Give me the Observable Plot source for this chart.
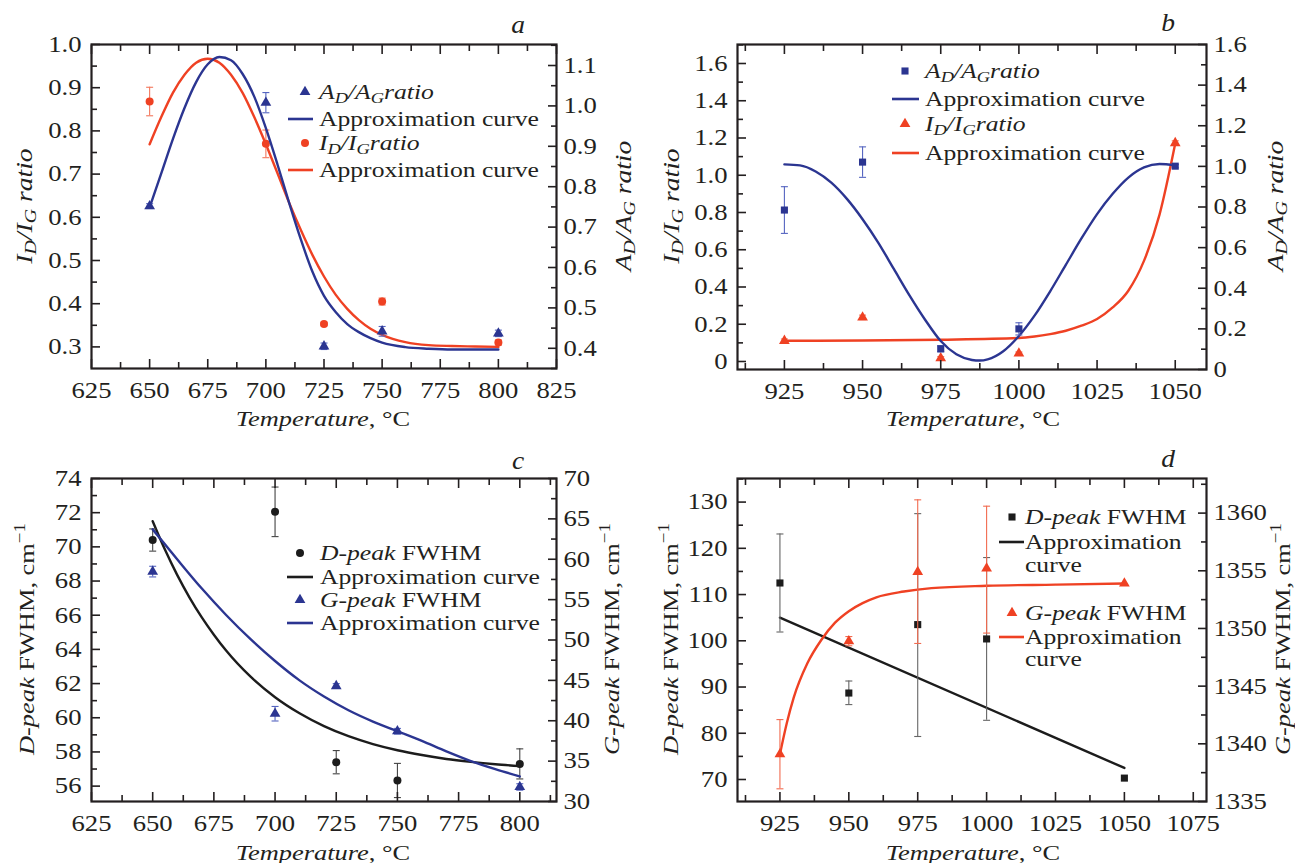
<!DOCTYPE html>
<html><head><meta charset="utf-8">
<script src="https://cdn.jsdelivr.net/npm/d3@7"></script>
<script src="https://cdn.jsdelivr.net/npm/@observablehq/plot@0.6"></script>
<style>
html,body{margin:0;padding:0;background:#fff;}
body{width:1295px;height:863px;overflow:hidden;position:relative;font-family:"Liberation Serif","Times New Roman",serif;color:#231f20;}
.abs{position:absolute;}
.t{position:absolute;white-space:nowrap;line-height:1;}
i{font-style:italic;}
sub{font-size:72%;vertical-align:-0.28em;line-height:0;}
sup{font-size:72%;vertical-align:0.55em;line-height:0;}
</style></head>
<body>
<script>
// ---------------- DATA ----------------
// Panel a
const tempA = [650, 700, 725, 750, 800];
const idigA = [0.868, 0.770, 0.353, 0.405, 0.310];
const idigErrA = [0.033, 0.032, 0.004, 0.008, 0.006];
const adagA = [0.752, 1.008, 0.405, 0.442, 0.437];
const adagErrA = [0.006, 0.025, 0.008, 0.012, 0.008];
const fitXA = [650,655,660,665,670,675,680,685,690,695,700,705,710,715,720,725,730,735,740,745,750,760,770,780,790,800];
const fitIdigA = [0.769,0.832,0.888,0.930,0.958,0.967,0.958,0.930,0.888,0.832,0.769,0.702,0.634,0.571,0.513,0.463,0.421,0.388,0.362,0.342,0.328,0.311,0.304,0.302,0.301,0.300];
const fitAdagA = [0.749,0.833,0.918,0.995,1.059,1.103,1.121,1.113,1.079,1.023,0.945,0.855,0.760,0.670,0.590,0.530,0.490,0.460,0.440,0.425,0.414,0.403,0.399,0.397,0.397,0.397];

// Panel b
const tempB = [925, 950, 975, 1000, 1050];
const adagB = [0.785, 1.021, 0.102, 0.200, 1.001];
const adagErrB = [0.115, 0.075, 0.015, 0.03, 0.008];
const idigB = [0.111, 0.237, 0.018, 0.043, 1.173];
const idigErrB = [0.01, 0.012, 0.008, 0.008, 0.012];
const fitXB1 = [925,930,935,940,945,950,955,960,965,970,975,980,985,987.5,990,995,1000,1005,1010,1015,1020,1025,1030,1035,1040,1045,1050];
const fitAdagB = [1.01,1.005,0.975,0.92,0.84,0.74,0.625,0.495,0.365,0.245,0.14,0.075,0.047,0.044,0.05,0.09,0.165,0.265,0.385,0.515,0.645,0.765,0.865,0.945,0.995,1.012,1.005];
const fitXB2 = [925,950,975,1000,1005,1010,1015,1020,1025,1030,1035,1040,1045,1050];
const fitIdigB = [0.111,0.113,0.117,0.126,0.134,0.147,0.165,0.192,0.228,0.29,0.38,0.54,0.79,1.17];

// Panel c
const tempC = [650, 700, 725, 750, 800];
const dC = [70.4, 72.05, 57.4, 56.33, 57.3];
const dErrC = [0.65, 1.45, 0.68, 1.0, 0.88];
const gC = [58.47, 40.87, 44.3, 38.7, 31.8];
const gErrC = [0.66, 0.9, 0.3, 0.35, 0.4];
const fitXC1 = [650,655,660,665,670,675,680,690,700,710,720,730,740,750,760,770,780,790,800];
const fitDC = [71.50,69.84,68.36,67.05,65.89,64.86,63.93,62.40,61.20,60.26,59.51,58.92,58.46,58.10,57.82,57.59,57.42,57.28,57.17];
const fitXC2 = [650,660,670,680,690,700,710,720,730,740,750,760,770,780,790,800];
const fitGC = [63.7,60.0,56.4,53.1,50.1,47.4,45.0,43.0,41.3,39.9,38.7,37.5,36.2,35.0,34.0,33.1];

// Panel d
const tempD = [925, 950, 975, 1000, 1050];
const dD = [112.5, 88.7, 103.5, 100.4, 70.3];
const dLoD = [101.9, 86.2, 79.3, 82.8, 70.3];
const dHiD = [123.1, 91.3, 127.5, 118.0, 70.3];
const gD = [1339.1, 1348.9, 1354.9, 1355.2, 1353.9];
const gLoD = [1336.1, 1348.5, 1348.7, 1349.6, 1353.9];
const gHiD = [1342.1, 1349.3, 1361.15, 1360.6, 1353.9];
const fitXD1 = [925, 1050];
const fitDD = [105.0, 72.5];
const fitXD2 = [925,927.5,930,935,940,945,950,955,960,970,980,1000,1025,1050];
const fitGD = [1339.1,1341.8,1344.0,1347.0,1349.0,1350.5,1351.5,1352.2,1352.7,1353.2,1353.5,1353.7,1353.8,1353.9];

// ---------------- STYLE ----------------
const BLUE = "#2b3591", RED = "#ef4123", BLACK = "#1c1c1c", INK = "#231f20";
const FONT = '"Liberation Serif","Times New Roman",serif';
const W = 647, H = 431;

const pts = (xs, ys, lo, hi) => xs.map((x, i) => ({x, y: ys[i], lo: lo ? lo[i] : ys[i], hi: hi ? hi[i] : ys[i]}));
const withErr = (xs, ys, err) => pts(xs, ys, ys.map((v, i) => v - err[i]), ys.map((v, i) => v + err[i]));
const capSym = {draw(ctx, size) { const r = Math.sqrt(size / Math.PI); ctx.moveTo(-r, 0); ctx.lineTo(r, 0); }};

function series(rows, {symbol, color, errColor, r = 4, fit}) {
  const e = rows.filter(d => d.hi > d.lo);
  const m = [];
  if (fit) m.push(Plot.line(fit, {x: "x", y: "y", stroke: color, strokeWidth: 2.4, curve: "monotone-x"}));
  m.push(Plot.ruleX(e, {x: "x", y1: "lo", y2: "hi", stroke: errColor, strokeWidth: 1.1}));
  m.push(Plot.dot(e, {x: "x", y: "lo", symbol: capSym, r: 3.5, stroke: errColor, fill: "none", strokeWidth: 1.1}));
  m.push(Plot.dot(e, {x: "x", y: "hi", symbol: capSym, r: 3.5, stroke: errColor, fill: "none", strokeWidth: 1.1}));
  m.push(Plot.dot(rows, {x: "x", y: "y", symbol, r, fill: color, stroke: "none"}));
  return m;
}

const range = (a, b, s) => { const out = []; for (let v = a; v <= b + 1e-9; v += s) out.push(+v.toFixed(4)); return out; };

function stretch(svg, s) {
  svg.querySelectorAll("text").forEach(t => {
    const tr = t.getAttribute("transform") || "";
    t.setAttribute("transform", tr + ` scale(${s},1)`);
  });
}

function panel(cfg) {
  const wrap = document.createElement("div");
  wrap.className = "abs";
  Object.assign(wrap.style, {left: cfg.left + "px", top: cfg.top + "px", width: W + "px", height: H + "px"});
  const base = {width: W, height: H, marginLeft: cfg.ml, marginRight: cfg.mr, marginTop: cfg.mt, marginBottom: cfg.mb,
    style: {fontFamily: FONT, fontSize: "23px", color: INK, background: "transparent", overflow: "visible"}};
  const none = () => "";
  const p1 = Plot.plot({...base,
    x: {domain: cfg.xDomain},
    y: {domain: cfg.yL.domain},
    marks: [
      ...cfg.marksL,
      Plot.axisX({ticks: cfg.xMajor, tickSize: 0, tickPadding: 13, tickFormat: d3.format("d"), label: null}),
      Plot.axisX({ticks: cfg.xMajor, tickSize: -9, tickFormat: none, label: null, strokeWidth: 1.6}),
      Plot.axisX({ticks: cfg.xMinor, tickSize: -6, tickFormat: none, label: null, strokeWidth: 1.6}),
      Plot.axisX({anchor: "top", ticks: cfg.xMajor, tickSize: -9, tickFormat: none, label: null, strokeWidth: 1.6}),
      Plot.axisX({anchor: "top", ticks: cfg.xMinor, tickSize: -6, tickFormat: none, label: null, strokeWidth: 1.6}),
      Plot.axisY({ticks: cfg.yL.major, tickSize: 0, tickPadding: 10, tickFormat: cfg.yL.fmt, label: null}),
      Plot.axisY({ticks: cfg.yL.major, tickSize: -9, tickFormat: none, label: null, strokeWidth: 1.6}),
      Plot.axisY({ticks: cfg.yL.minor, tickSize: -6, tickFormat: none, label: null, strokeWidth: 1.6}),
      Plot.frame({stroke: INK, strokeWidth: 2.2})
    ]});
  const p2 = Plot.plot({...base,
    x: {domain: cfg.xDomain, axis: null},
    y: {domain: cfg.yR.domain},
    marks: [
      ...cfg.marksR,
      Plot.axisY({anchor: "right", ticks: cfg.yR.major, tickSize: 0, tickPadding: 7, tickFormat: cfg.yR.fmt, label: null}),
      Plot.axisY({anchor: "right", ticks: cfg.yR.major, tickSize: -9, tickFormat: none, label: null, strokeWidth: 1.6}),
      Plot.axisY({anchor: "right", ticks: cfg.yR.minor, tickSize: -6, tickFormat: none, label: null, strokeWidth: 1.6})
    ]});
  for (const p of [p1, p2]) {
    stretch(p, 1.16);
    Object.assign(p.style, {position: "absolute", left: "0px", top: "0px"});
    wrap.appendChild(p);
  }
  document.body.appendChild(wrap);
}

const f1 = d3.format(".1f");
const f0 = v => v === 0 ? "0" : f1(v);
const fd = d3.format("d");

// Panel a
panel({left: 0, top: 0, ml: 91, mr: 91, mt: 44, mb: 63,
  xDomain: [625, 825], xMajor: range(625, 825, 25), xMinor: range(637.5, 812.5, 25),
  yL: {domain: [0.25, 1.0], major: range(0.3, 1.0, 0.1), minor: range(0.35, 0.95, 0.1), fmt: f1},
  yR: {domain: [0.35, 1.152], major: range(0.4, 1.1, 0.1), minor: range(0.35, 1.15, 0.1), fmt: f1},
  marksL: series(withErr(tempA, idigA, idigErrA), {symbol: "circle", color: RED, errColor: "#f3775c", fit: pts(fitXA, fitIdigA)}),
  marksR: series(withErr(tempA, adagA, adagErrA), {symbol: "triangle", color: BLUE, errColor: "#5565c0", fit: pts(fitXA, fitAdagA)})
});
// Panel b
panel({left: 648, top: 0, ml: 89, mr: 89, mt: 44, mb: 62,
  xDomain: [910, 1060], xMajor: range(925, 1050, 25), xMinor: range(912.5, 1037.5, 25),
  yL: {domain: [-0.043, 1.702], major: range(0, 1.6, 0.2), minor: range(0.1, 1.7, 0.2), fmt: f0},
  yR: {domain: [0, 1.6], major: range(0, 1.6, 0.2), minor: range(0.1, 1.5, 0.2), fmt: f0},
  marksL: series(withErr(tempB, idigB, idigErrB), {symbol: "triangle", color: RED, errColor: "#f3775c", fit: pts(fitXB2, fitIdigB)}),
  marksR: series(withErr(tempB, adagB, adagErrB), {symbol: "square", color: BLUE, errColor: "#5565c0", fit: pts(fitXB1, fitAdagB)})
});
// Panel c
panel({left: 0, top: 432, ml: 91, mr: 91, mt: 46, mb: 62,
  xDomain: [625, 815], xMajor: range(625, 800, 25), xMinor: range(637.5, 812.5, 25),
  yL: {domain: [55.1, 74], major: range(56, 74, 2), minor: range(57, 73, 2), fmt: fd},
  yR: {domain: [30, 70], major: range(30, 70, 5), minor: range(32.5, 67.5, 5), fmt: fd},
  marksL: series(withErr(tempC, dC, dErrC), {symbol: "circle", color: BLACK, errColor: "#444", fit: pts(fitXC1, fitDC)}),
  marksR: series(withErr(tempC, gC, gErrC), {symbol: "triangle", color: BLUE, errColor: "#5565c0", fit: pts(fitXC2, fitGC)})
});
// Panel d
panel({left: 648, top: 432, ml: 89, mr: 89, mt: 46, mb: 62,
  xDomain: [909.6, 1079.8], xMajor: range(925, 1075, 25), xMinor: range(912.5, 1062.5, 25),
  yL: {domain: [65.24, 135.1], major: range(70, 130, 10), minor: range(75, 135, 10), fmt: fd},
  yR: {domain: [1335, 1363], major: range(1335, 1360, 5), minor: range(1337.5, 1362.5, 5), fmt: fd},
  marksL: series(pts(tempD, dD, dLoD, dHiD), {symbol: "square", color: BLACK, errColor: "#666", fit: pts(fitXD1, fitDD)}),
  marksR: series(pts(tempD, gD, gLoD, gHiD), {symbol: "triangle", color: RED, errColor: "#f26b50", fit: pts(fitXD2, fitGD)})
});

// ---------------- TEXT ----------------
function txt(html, x, y, {size = 22, scale = 1.2, rot = false, left = false} = {}) {
  const d = document.createElement("div");
  d.className = "t";
  d.innerHTML = html;
  d.style.fontSize = size + "px";
  d.style.left = x + "px";
  d.style.top = y + "px";
  if (left) {
    d.style.transformOrigin = "0 50%";
    d.style.transform = `translateY(-50%) scaleX(${scale})`;
  } else {
    d.style.transform = `translate(-50%,-50%)${rot ? " rotate(-90deg)" : ""} scaleX(${scale})`;
  }
  document.body.appendChild(d);
}
const IDIG = "<i>I<sub>D</sub>/I<sub>G</sub> ratio</i>";
const ADAG = "<i>A<sub>D</sub>/A<sub>G</sub> ratio</i>";
const IDIGl = "<i>I<sub>D</sub>/I<sub>G</sub>ratio</i>";
const ADAGl = "<i>A<sub>D</sub>/A<sub>G</sub>ratio</i>";
const TEMP = "<i>Temperature</i>, °C";
const DP = "<i>D-peak</i> FWHM, cm<sup>−1</sup>";
const GP = "<i>G-peak</i> FWHM, cm<sup>−1</sup>";

txt(IDIG, 24, 206, {size: 23, rot: true});
txt(ADAG, 623, 206, {size: 23, rot: true});
txt(IDIG, 671, 206, {size: 23, rot: true});
txt(ADAG, 1275, 206, {size: 23, rot: true});
txt(DP, 27, 639, {size: 22, rot: true});
txt(GP, 612, 639, {size: 22, rot: true});
txt(DP, 671, 639, {size: 22, rot: true});
txt(GP, 1283, 639, {size: 22, rot: true});
txt(TEMP, 323, 419, {size: 22});
txt(TEMP, 973, 419, {size: 22});
txt(TEMP, 323, 853, {size: 22});
txt(TEMP, 973, 853, {size: 22});
txt("<i>a</i>", 518, 24, {size: 25, scale: 1.1});
txt("<i>b</i>", 1168, 22, {size: 25, scale: 1.1});
txt("<i>c</i>", 518, 460, {size: 25, scale: 1.1});
txt("<i>d</i>", 1168, 458, {size: 25, scale: 1.1});

// ---------------- LEGENDS ----------------
const lg = d3.select(document.body).append("svg")
  .attr("width", 1295).attr("height", 863)
  .style("position", "absolute").style("left", "0px").style("top", "0px").style("pointer-events", "none");
const symMap = {triangle: d3.symbolTriangle, circle: d3.symbolCircle, square: d3.symbolSquare};
function legend(items, sx, lx1, lx2, tx) {
  for (const it of items) {
    if (it.sym === "line") {
      lg.append("line").attr("x1", lx1).attr("x2", lx2).attr("y1", it.y).attr("y2", it.y)
        .attr("stroke", it.color).attr("stroke-width", 2.6);
    } else if (it.sym) {
      lg.append("path").attr("d", d3.symbol(symMap[it.sym], Math.PI * 16)())
        .attr("transform", `translate(${sx},${it.y})`).attr("fill", it.color);
    }
    txt(it.text, tx, it.y, {size: 21, scale: 1.22, left: true});
  }
}
legend([
  {sym: "triangle", color: BLUE, y: 92, text: ADAGl},
  {sym: "line", color: BLUE, y: 119, text: "Approximation curve"},
  {sym: "circle", color: RED, y: 143, text: IDIGl},
  {sym: "line", color: RED, y: 170, text: "Approximation curve"}
], 305, 288, 313, 319);
legend([
  {sym: "square", color: BLUE, y: 71, text: ADAGl},
  {sym: "line", color: BLUE, y: 99, text: "Approximation curve"},
  {sym: "triangle", color: RED, y: 124, text: IDIGl},
  {sym: "line", color: RED, y: 153, text: "Approximation curve"}
], 905, 892, 919, 925);
legend([
  {sym: "circle", color: BLACK, y: 553, text: "<i>D-peak</i> FWHM"},
  {sym: "line", color: BLACK, y: 577, text: "Approximation curve"},
  {sym: "triangle", color: BLUE, y: 600, text: "<i>G-peak</i> FWHM"},
  {sym: "line", color: BLUE, y: 623, text: "Approximation curve"}
], 300, 287, 313, 320);
legend([
  {sym: "square", color: BLACK, y: 517, text: "<i>D-peak</i> FWHM"},
  {sym: "line", color: BLACK, y: 542, text: "Approximation"},
  {sym: null, y: 565, text: "curve"},
  {sym: "triangle", color: RED, y: 613, text: "<i>G-peak</i> FWHM"},
  {sym: "line", color: RED, y: 637, text: "Approximation"},
  {sym: null, y: 659, text: "curve"}
], 1012, 999, 1024, 1025);
</script>
</body></html>
